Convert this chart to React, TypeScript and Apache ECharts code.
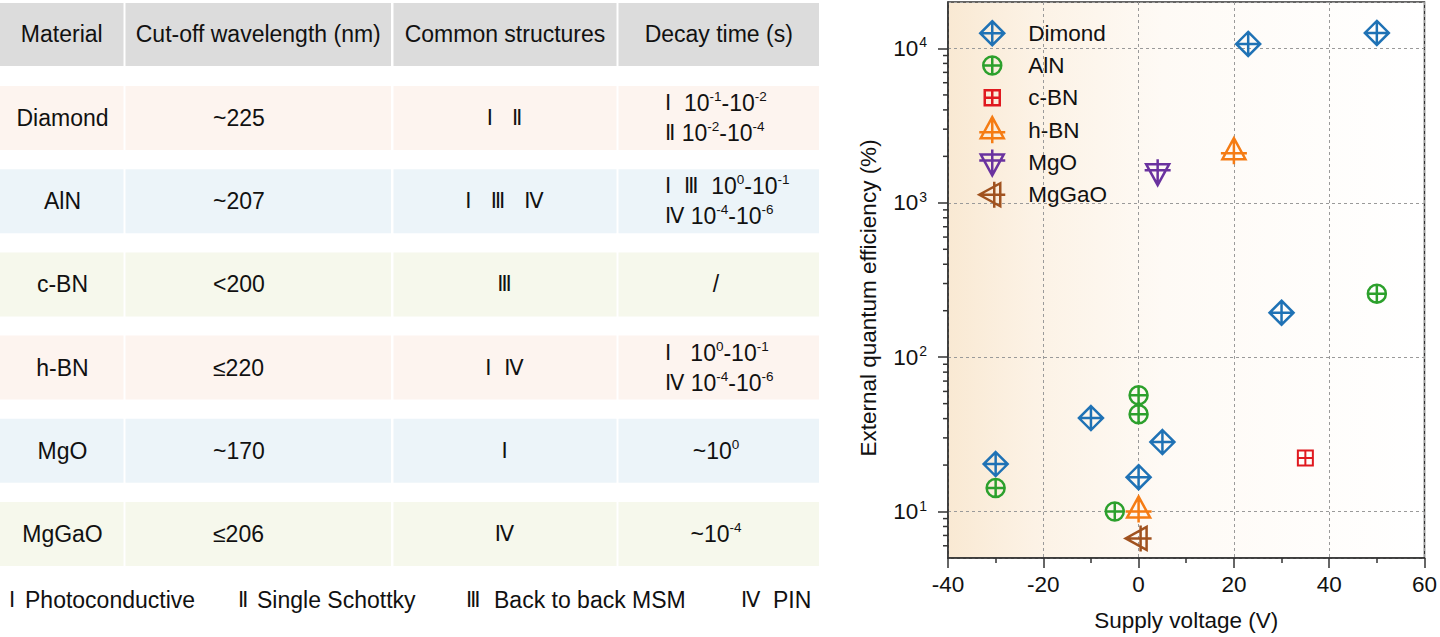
import React, { useEffect, useRef } from 'react';
import * as echarts from 'echarts';

// ---------------- table data ----------------
const tableHeaders = ['Material', 'Cut-off wavelength (nm)', 'Common structures', 'Decay time (s)'];
const materials = ['Diamond', 'AlN', 'c-BN', 'h-BN', 'MgO', 'MgGaO'];
const cutoffs = ['~225', '~207', '<200', '≤220', '~170', '≤206'];
const structures = ['Ⅰ   Ⅱ', 'Ⅰ   Ⅲ   Ⅳ', 'Ⅲ', 'Ⅰ  Ⅳ', 'Ⅰ', 'Ⅳ'];
const decayTimes: string[][] = [
  ['Ⅰ  10^-1-10^-2', 'Ⅱ 10^-2-10^-4'],
  ['Ⅰ  Ⅲ  10^0-10^-1', 'Ⅳ 10^-4-10^-6'],
  ['/'],
  ['Ⅰ   10^0-10^-1', 'Ⅳ 10^-4-10^-6'],
  ['~10^0'],
  ['~10^-4'],
];
const structureNumerals = ['Ⅰ', 'Ⅱ', 'Ⅲ', 'Ⅳ'];
const structureNames = ['Photoconductive', 'Single Schottky', 'Back to back MSM', 'PIN'];

// ---------------- chart data ----------------
const seriesNames = ['Dimond', 'AlN', 'c-BN', 'h-BN', 'MgO', 'MgGaO'];
const diamondVoltage = [-30, -10, 0, 5, 23, 30, 50];
const diamondEQE = [20.3, 40.3, 16.7, 28.2, 10700, 194, 12600];
const alnVoltage = [-30, -5, 0, 0, 50];
const alnEQE = [14.2, 10, 42.7, 56.6, 258];
const cbnVoltage = [35];
const cbnEQE = [22.2];
const hbnVoltage = [0, 20];
const hbnEQE = [10.3, 2160];
const mgoVoltage = [4];
const mgoEQE = [1580];
const mggaoVoltage = [0];
const mggaoEQE = [6.7];
const xMin = -40;
const xMax = 60;
const xStep = 20;
const yMin = 5;
const yMax = 20000;
// minor tick values of the log axis (2..9 x 10^n)
const yMinorTicks = [
  6, 7, 8, 9,
  20, 30, 40, 50, 60, 70, 80, 90,
  200, 300, 400, 500, 600, 700, 800, 900,
  2000, 3000, 4000, 5000, 6000, 7000, 8000, 9000,
];

// ---------------- styles / layout ----------------
const FONT = 'Arial, "Liberation Sans", Helvetica, sans-serif';
const ROMAN_FONT = '"DejaVu Sans", sans-serif';
const TEXT = '#111111';
const AXIS = '#333333';
const TABLE_FS = 23;
const CHART_FS = 22.5;
const COLORS = ['#1f72b5', '#2ca02c', '#e0191f', '#f57c14', '#6a329f', '#a0521f'];
const BORDER_W = [2.5, 2.5, 2, 2.5, 2.5, 2.5];
const PAD = 'M0 0M28 28';
const SYMBOLS = [
  `path://${PAD}M14 2L26 14L14 26L2 14ZM2 14L26 14M14 2L14 26`,
  `path://${PAD}M14 5A9 9 0 1 1 14 23A9 9 0 1 1 14 5ZM5 14L23 14M14 5L14 23`,
  `path://${PAD}M6.5 6.5L21.5 6.5L21.5 21.5L6.5 21.5ZM6.5 14L21.5 14M14 6.5L14 21.5`,
  `path://${PAD}M14 1L25.5 22L2.5 22ZM1 16L27 16M14 1L14 27`,
  `path://${PAD}M14 27L25.5 6L2.5 6ZM1 12L27 12M14 1L14 27`,
  `path://${PAD}M1 14L22 25.5L22 2.5ZM16 1L16 27M1 14L27 14`,
];

const COLS: [number, number][] = [[0, 123.5], [125.5, 391], [393.5, 616.5], [618.5, 819]];
const HEADER_Y = 3;
const HEADER_H = 63;
const ROW_Y0 = 86;
const ROW_STEP = 83.2;
const ROW_H = 64;
const HEADER_FILL = '#dcdcdc';
const TINTS = ['#fdf4ef', '#ecf4f9', '#f6f8ec'];
const FOOTER_ROMAN_X = [9, 238, 466, 741];
const FOOTER_LABEL_X = [25, 257, 494, 773];
const FOOTER_Y = 600;

const tableRich = {
  s: { fontSize: 13.5, fontFamily: FONT, fill: TEXT, color: TEXT, verticalAlign: 'top', lineHeight: 13 },
  r: { fontSize: 21, fontFamily: ROMAN_FONT, fill: TEXT, color: TEXT },
};

function richify(s: string): string {
  return s.replace(/\^(-?\d+)/g, '{s|$1}').replace(/([ⅠⅡⅢⅣ]+)/g, '{r|$1}');
}

function textEl(str: string, x: number, y: number, align: string) {
  return {
    type: 'text',
    silent: true,
    style: {
      text: str,
      x,
      y,
      fill: TEXT,
      fontSize: TABLE_FS,
      fontFamily: FONT,
      align,
      verticalAlign: 'middle',
      lineHeight: 27,
      rich: tableRich,
    },
  };
}

function buildGraphic() {
  const els: any[] = [];
  COLS.forEach(([x0, x1], c) => {
    els.push({ type: 'rect', silent: true, shape: { x: x0, y: HEADER_Y, width: x1 - x0, height: HEADER_H }, style: { fill: HEADER_FILL } });
    els.push(textEl(tableHeaders[c], (x0 + x1) / 2, HEADER_Y + HEADER_H / 2 - 1, 'center'));
  });
  materials.forEach((m, i) => {
    const y = ROW_Y0 + i * ROW_STEP;
    const cy = y + ROW_H / 2;
    COLS.forEach(([x0, x1]) => {
      els.push({ type: 'rect', silent: true, shape: { x: x0, y, width: x1 - x0, height: ROW_H }, style: { fill: TINTS[i % 3] } });
    });
    els.push(textEl(m, 62.5, cy, 'center'));
    els.push(textEl(cutoffs[i], 213, cy, 'left'));
    els.push(textEl(richify(structures[i]), 504.5, cy, 'center'));
    const lines = decayTimes[i];
    if (lines.length === 1) {
      els.push(textEl(richify(lines[0]), 716, cy, 'center'));
    } else {
      lines.forEach((ln, k) => {
        els.push(textEl(richify(ln), 665, cy + (k === 0 ? -15 : 15), 'left'));
      });
    }
  });
  structureNumerals.forEach((r, i) => {
    els.push(textEl(`{r|${r}}`, FOOTER_ROMAN_X[i], FOOTER_Y, 'left'));
    els.push(textEl(structureNames[i], FOOTER_LABEL_X[i], FOOTER_Y, 'left'));
  });
  return els;
}

function pairs(xs: number[], ys: number[]) {
  return xs.map((x, i) => [x, ys[i]]);
}

function buildOption() {
  const dataSets = [
    pairs(diamondVoltage, diamondEQE),
    pairs(alnVoltage, alnEQE),
    pairs(cbnVoltage, cbnEQE),
    pairs(hbnVoltage, hbnEQE),
    pairs(mgoVoltage, mgoEQE),
    pairs(mggaoVoltage, mggaoEQE),
  ];
  const axisLine = { show: true, onZero: false, lineStyle: { color: AXIS, width: 1.5 } };
  const tickStyle = { color: AXIS, width: 1.5 };
  const split = { show: true, lineStyle: { color: '#9a9a9a', width: 1, type: [3, 3] } };
  const scatter = seriesNames.map((name, i) => ({
    name,
    type: 'scatter',
    data: dataSets[i],
    symbol: SYMBOLS[i],
    symbolSize: 28,
    itemStyle: { color: 'transparent', borderColor: COLORS[i], borderWidth: BORDER_W[i], opacity: 1 },
    emphasis: { disabled: true },
    z: 3,
  }));
  const minorTickSeries = {
    type: 'custom',
    name: 'y-minor-ticks',
    silent: true,
    clip: false,
    z: 5,
    data: yMinorTicks.map((v) => [xMin, v]),
    encode: { x: 0, y: 1 },
    renderItem: (_params: any, api: any) => {
      const p = api.coord([api.value(0), api.value(1)]);
      return {
        type: 'line',
        shape: { x1: p[0] - 5, y1: p[1], x2: p[0], y2: p[1] },
        style: { stroke: AXIS, lineWidth: 1.5 },
      };
    },
  };
  return {
    animation: false,
    backgroundColor: '#ffffff',
    textStyle: { fontFamily: FONT },
    graphic: buildGraphic(),
    grid: {
      left: 948,
      right: 13,
      top: 2,
      bottom: 77,
      show: true,
      borderColor: AXIS,
      borderWidth: 1.5,
      backgroundColor: new echarts.graphic.LinearGradient(0, 0, 1, 0, [
        { offset: 0, color: '#f9e9d3' },
        { offset: 0.18, color: '#fcf2e5' },
        { offset: 0.45, color: '#fefaf5' },
        { offset: 1, color: '#ffffff' },
      ]),
    },
    legend: {
      orient: 'vertical',
      left: 977,
      top: 18,
      padding: 0,
      itemWidth: 28,
      itemHeight: 28,
      itemGap: 1.8,
      data: seriesNames,
      itemStyle: { borderWidth: 2.5 },
      textStyle: { fontSize: CHART_FS, color: TEXT, fontFamily: FONT, lineHeight: 26, padding: [0, 0, 0, 17] },
    },
    xAxis: {
      type: 'value',
      min: xMin,
      max: xMax,
      interval: xStep,
      axisLine,
      axisTick: { show: true, length: 10, lineStyle: tickStyle },
      minorTick: { show: true, splitNumber: 2, length: 5, lineStyle: tickStyle },
      axisLabel: { fontSize: CHART_FS, color: TEXT, margin: 15, fontFamily: FONT },
      splitLine: split,
      name: 'Supply voltage (V)',
      nameLocation: 'middle',
      nameGap: 51,
      nameTextStyle: { fontSize: CHART_FS, color: TEXT, fontFamily: FONT },
    },
    yAxis: {
      type: 'log',
      logBase: 10,
      min: yMin,
      max: yMax,
      axisLine,
      axisTick: { show: true, length: 10, lineStyle: tickStyle },
      minorTick: { show: false },
      axisLabel: {
        margin: 21,
        showMinLabel: false,
        showMaxLabel: false,
        fontFamily: FONT,
        formatter: (v: number) => {
          const e = Math.log10(v);
          if (Math.abs(e - Math.round(e)) > 1e-6) return '';
          return `{b|10}{s|${Math.round(e)}}`;
        },
        rich: {
          b: { fontSize: CHART_FS, color: TEXT, fontFamily: FONT, lineHeight: 26 },
          s: { fontSize: 14, color: TEXT, fontFamily: FONT, verticalAlign: 'top', lineHeight: 14, padding: [0, 0, 0, 1] },
        },
      },
      splitLine: split,
      name: 'External quantum efficiency (%)',
      nameLocation: 'middle',
      nameGap: 68,
      nameRotate: 90,
      nameTextStyle: { fontSize: CHART_FS, color: TEXT, fontFamily: FONT, padding: [0, 36, 0, 0] },
    },
    series: [...scatter, minorTickSeries],
  };
}

export default function App() {
  const ref = useRef<HTMLDivElement>(null);
  useEffect(() => {
    if (!ref.current) return;
    const chart = echarts.init(ref.current, null, { renderer: 'svg' });
    chart.setOption(buildOption() as any);
    return () => chart.dispose();
  }, []);
  return (
    <div
      ref={ref}
      style={{ position: 'fixed', left: 0, top: 0, width: 1440, height: 637, background: '#ffffff' }}
    />
  );
}
